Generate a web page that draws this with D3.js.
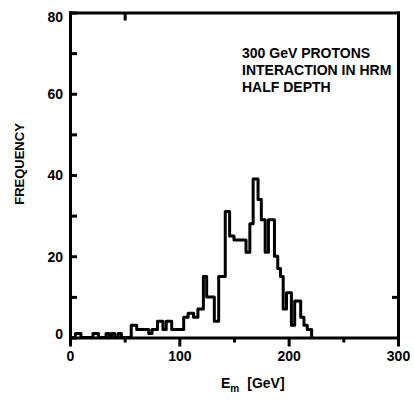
<!DOCTYPE html>
<meta charset="utf-8">
<style>
body { margin: 0; background: #fff; }
text { font-family: "Liberation Sans", Arial, sans-serif; font-weight: bold; fill: #000; }
.hist { fill: none; stroke: #000; stroke-width: 3px; stroke-linejoin: round; }
.axis path, .axis line { stroke: #000; stroke-width: 3px; }
</style>
<body>
<script src="https://d3js.org/d3.v7.min.js"></script>
<script>

// histogram: bin edges (GeV) and counts
var binEdges = [0, 5, 10, 21, 26, 33, 36, 38, 41, 44,
                47, 56, 61, 72, 75, 80, 85, 88, 93, 104,
                108, 113, 117, 122, 125, 132, 136, 142, 146, 150,
                161, 164.5, 167.5, 172, 175, 178.5, 181.5, 187, 190, 192.5,
                195, 198, 202.5, 205.5, 211, 214, 217, 221];
var binCounts = [0, 1, 0, 1, 0, 1, 0, 1, 0, 1,
                 0, 3, 2, 1, 2, 4, 2, 4, 2, 5,
                 6, 5, 7, 15, 10, 4, 15, 31, 25, 24,
                 21, 28, 39, 34, 29, 21, 29, 20, 17, 15,
                 7, 11, 3, 9, 5, 3, 2];

// axis ticks
var yTicks = [0, 10, 20, 30, 40, 50, 60, 70, 80];
var xTicks = [0, 50, 100, 150, 200, 250, 300];
var noteLines = ["300 GeV PROTONS", "INTERACTION IN HRM", "HALF DEPTH"];

var svg = d3.select("body").append("svg")
    .attr("width", 414)
    .attr("height", 400);

var x = d3.scaleLinear().domain([0, 300]).range([70, 398]);
var y = d3.scaleLinear().domain([0, 80]).range([337.5, 12.5]);

// left axis, ticks pointing inward
var yAxis = svg.append("g")
    .attr("class", "axis")
    .attr("transform", "translate(" + x(0) + ",0)")
    .call(d3.axisLeft(y).tickValues(yTicks).tickSize(-7).tickSizeOuter(0).tickPadding(7)
      .tickFormat(function(d) { return d % 20 ? "" : d; }));
yAxis.selectAll("text").attr("font-size", "14px")
    .attr("dy", function(d) { return d == 80 ? "0.62em" : d == 0 ? "0.1em" : "0.35em"; });

// bottom axis, ticks pointing down
var xAxis = svg.append("g")
    .attr("class", "axis")
    .attr("transform", "translate(0," + y(0) + ")")
    .call(d3.axisBottom(x).tickValues(xTicks).tickSize(9).tickSizeOuter(0).tickPadding(5)
      .tickFormat(function(d) { return d % 100 ? "" : d; }));
xAxis.selectAll("line").attr("y2", function(d) { return d % 100 ? 5 : 9; });
xAxis.selectAll("text").attr("font-size", "14px");

// top and right edges of the frame
svg.append("g")
    .attr("class", "axis")
    .attr("transform", "translate(0," + y(80) + ")")
    .call(d3.axisTop(x).tickValues([50]).tickSize(-8).tickSizeOuter(0).tickFormat(""));
svg.append("g")
    .attr("class", "axis")
    .attr("transform", "translate(" + x(300) + ",0)")
    .call(d3.axisRight(y).tickValues([10]).tickSize(-6).tickSizeOuter(0).tickFormat(""));

svg.selectAll(".axis path").attr("stroke-linecap", "square");

// histogram outline
var pts = binCounts.map(function(c, i) { return [binEdges[i], c]; });
pts.push([binEdges[binEdges.length - 1], 0]);

var step = d3.line()
    .x(function(d) { return x(d[0]); })
    .y(function(d) { return y(d[1]); })
    .curve(d3.curveStepAfter);

svg.append("path")
    .datum(pts)
    .attr("class", "hist")
    .attr("d", step);

// annotation
svg.append("g").selectAll("text")
    .data(noteLines)
  .enter().append("text")
    .attr("x", 242)
    .attr("y", function(d, i) { return 58 + i * 17; })
    .attr("font-size", "14px")
    .text(function(d) { return d; });

// axis titles
svg.append("text")
    .attr("transform", "translate(24,164) rotate(-90)")
    .attr("text-anchor", "middle")
    .attr("font-size", "13px")
    .text("FREQUENCY");

var xt = svg.append("text")
    .attr("x", 221)
    .attr("y", 388)
    .attr("font-size", "14px");
xt.append("tspan").text("E");
xt.append("tspan").attr("font-size", "10px").attr("dy", 4).text("m");
xt.append("tspan").attr("dy", -4).attr("dx", 8).text("[GeV]");

</script>
</body>
